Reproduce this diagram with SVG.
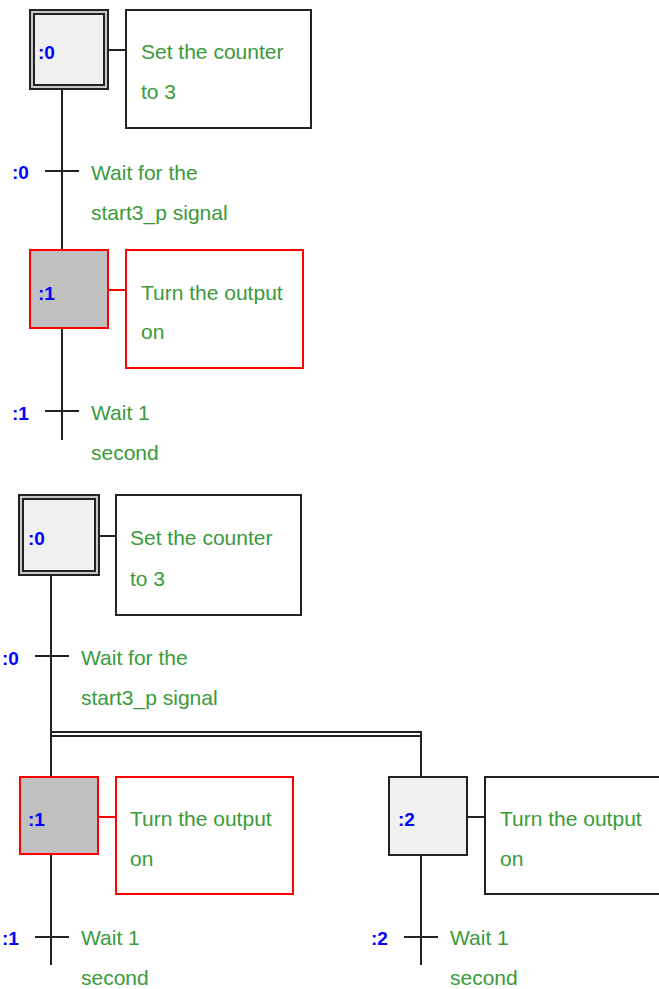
<svg xmlns="http://www.w3.org/2000/svg" width="659" height="989" viewBox="0 0 659 989">
<style>
.ln{stroke:#222;stroke-width:2;fill:none}
.lr{stroke:#f00;stroke-width:2;fill:none}
.act{fill:#fff;stroke:#222;stroke-width:2}
.actr{fill:#fff;stroke:#f00;stroke-width:2}
.stp{fill:#f0f0f0;stroke:#222;stroke-width:2}
.stpo{fill:#c8c8c8;stroke:#222;stroke-width:2}
.stpa{fill:#c0c0c0;stroke:#f00;stroke-width:2}
.t{font-family:"Liberation Sans",Arial,sans-serif;font-size:21px;fill:#3a9a3a}
.n{font-family:"Liberation Sans",Arial,sans-serif;font-size:19px;font-weight:bold;fill:#0000ff}
</style>
<rect width="659" height="989" fill="#fff"/>
<g id="connectors">
<line class="ln" x1="62" y1="89" x2="62" y2="250"/>
<line class="ln" x1="62" y1="328" x2="62" y2="440"/>
<line class="ln" x1="45" y1="171" x2="79" y2="171"/>
<line class="ln" x1="45" y1="411" x2="79" y2="411"/>
<line class="ln" x1="109" y1="50" x2="126" y2="50"/>
<line class="lr" x1="108" y1="290" x2="126" y2="290"/>
<line class="ln" x1="51" y1="575" x2="51" y2="777"/>
<line class="ln" x1="51" y1="854" x2="51" y2="965"/>
<line class="ln" x1="35" y1="656" x2="69" y2="656"/>
<line class="ln" x1="35" y1="937" x2="69" y2="937"/>
<line class="ln" x1="99" y1="536" x2="116" y2="536"/>
<line class="lr" x1="98" y1="817" x2="116" y2="817"/>
<line class="ln" x1="51" y1="732" x2="422" y2="732"/>
<line class="ln" x1="51" y1="736" x2="420" y2="736"/>
<line class="ln" x1="421" y1="732" x2="421" y2="777"/>
<line class="ln" x1="421" y1="855" x2="421" y2="965"/>
<line class="ln" x1="404" y1="937" x2="438" y2="937"/>
<line class="ln" x1="467" y1="817" x2="485" y2="817"/>
</g>
<g id="top-step0">
<rect class="stpo" x="30" y="10" width="78" height="79"/>
<rect class="stp" x="34" y="14" width="70" height="71"/>
<text class="n" x="38" y="59">:0</text>
</g>
<g id="top-action0">
<rect class="act" x="126" y="10" width="185" height="118"/>
<text class="t" x="141" y="59">Set the counter</text>
<text class="t" x="141" y="99">to 3</text>
</g>
<g id="top-trans0">
<text class="n" x="12" y="179">:0</text>
<text class="t" x="91" y="180">Wait for the</text>
<text class="t" x="91" y="220">start3_p signal</text>
</g>
<g id="top-step1">
<rect class="stpa" x="30" y="250" width="78" height="78"/>
<text class="n" x="38" y="300">:1</text>
</g>
<g id="top-action1">
<rect class="actr" x="126" y="250" width="177" height="118"/>
<text class="t" x="141" y="300">Turn the output</text>
<text class="t" x="141" y="339">on</text>
</g>
<g id="top-trans1">
<text class="n" x="12" y="420">:1</text>
<text class="t" x="91" y="420">Wait 1</text>
<text class="t" x="91" y="460">second</text>
</g>
<g id="bot-step0">
<rect class="stpo" x="19" y="495" width="80" height="80"/>
<rect class="stp" x="23" y="499" width="72" height="72"/>
<text class="n" x="28" y="545">:0</text>
</g>
<g id="bot-action0">
<rect class="act" x="116" y="495" width="185" height="120"/>
<text class="t" x="130" y="545">Set the counter</text>
<text class="t" x="130" y="586">to 3</text>
</g>
<g id="bot-trans0">
<text class="n" x="2" y="665">:0</text>
<text class="t" x="81" y="665">Wait for the</text>
<text class="t" x="81" y="705">start3_p signal</text>
</g>
<g id="bot-step1">
<rect class="stpa" x="20" y="777" width="78" height="77"/>
<text class="n" x="28" y="826">:1</text>
</g>
<g id="bot-action1">
<rect class="actr" x="116" y="777" width="177" height="117"/>
<text class="t" x="130" y="826">Turn the output</text>
<text class="t" x="130" y="866">on</text>
</g>
<g id="bot-trans1">
<text class="n" x="2" y="945">:1</text>
<text class="t" x="81" y="945">Wait 1</text>
<text class="t" x="81" y="985">second</text>
</g>
<g id="bot-step2">
<rect class="stp" x="389" y="777" width="78" height="78"/>
<text class="n" x="398" y="826">:2</text>
</g>
<g id="bot-action2">
<rect class="act" x="485" y="777" width="180" height="117"/>
<text class="t" x="500" y="826">Turn the output</text>
<text class="t" x="500" y="866">on</text>
</g>
<g id="bot-trans2">
<text class="n" x="371" y="945">:2</text>
<text class="t" x="450" y="945">Wait 1</text>
<text class="t" x="450" y="985">second</text>
</g>
</svg>
